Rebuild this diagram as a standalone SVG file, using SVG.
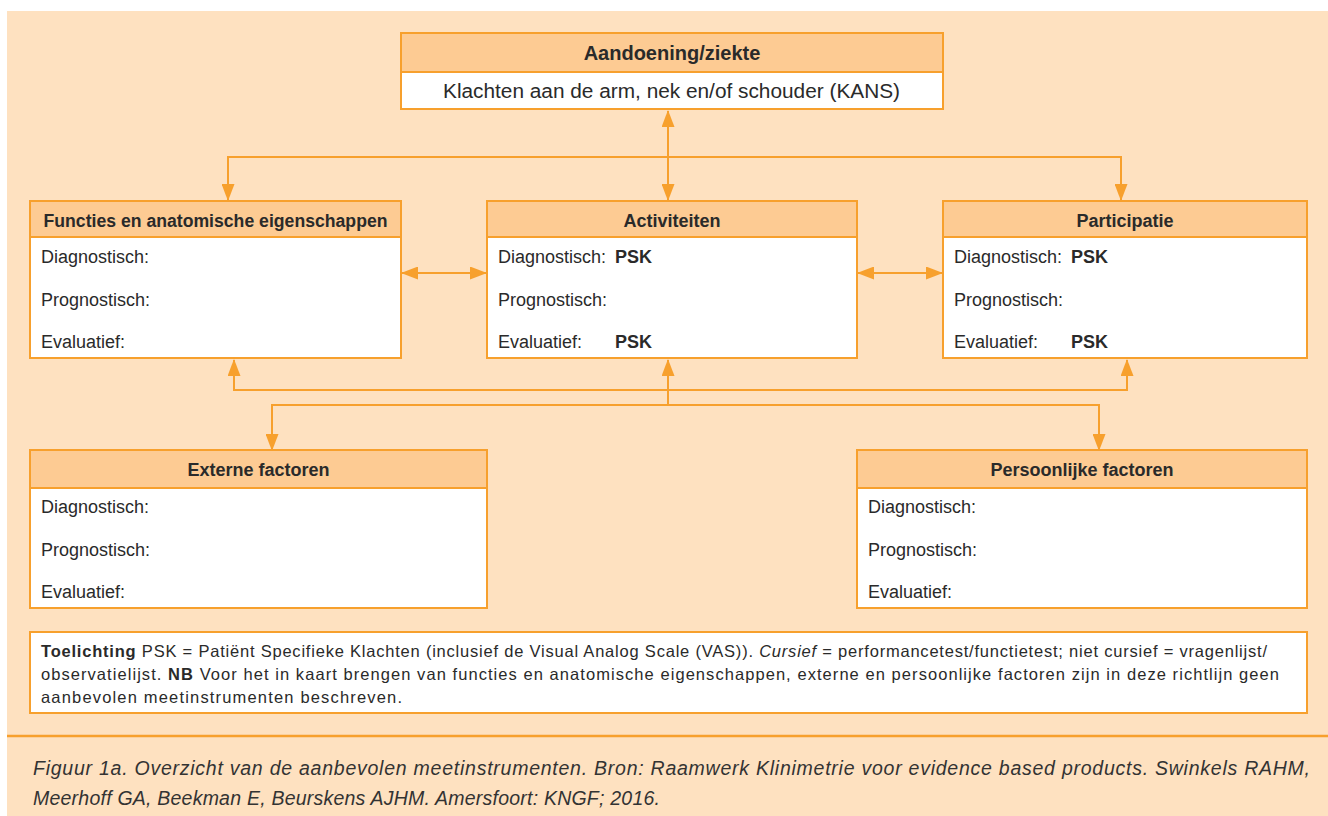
<svg xmlns="http://www.w3.org/2000/svg" width="1328" height="816" viewBox="0 0 1328 816">
<defs>
<style>
.bg{fill:#FEE1C0}
.hdr{fill:#FDCB93;stroke:#F7A02D;stroke-width:2}
.body{fill:#FFFFFF;stroke:#F7A02D;stroke-width:2}
.ln{fill:none;stroke:#F7A02D;stroke-width:2}
text{font-family:"Liberation Sans",Arial,sans-serif;fill:#2A2A2A}
.t{font-size:18px;font-weight:bold;text-anchor:middle}
.r{font-size:18px}
.b{font-weight:bold}
.note{font-size:16.5px}
.cap{font-size:19.5px;font-style:italic;fill:#333}
</style>
<marker id="ah" viewBox="0 0 17 13" refX="16" refY="6.5" markerWidth="17" markerHeight="13" markerUnits="userSpaceOnUse" orient="auto-start-reverse">
<path d="M0,0 L17,6.5 L0,13 z" fill="#F7A02D"/>
</marker>
</defs>
<rect class="bg" x="7" y="11" width="1321" height="805"/>
<line x1="7" y1="736" x2="1328" y2="736" stroke="#F7A02D" stroke-width="2.5"/>

<g id="connectors">
<path class="ln" d="M668,111 V200" marker-start="url(#ah)" marker-end="url(#ah)"/>
<path class="ln" d="M228,200 V157 H1121 V200" marker-start="url(#ah)" marker-end="url(#ah)"/>
<path class="ln" d="M402,273 H486" marker-start="url(#ah)" marker-end="url(#ah)"/>
<path class="ln" d="M858,273 H942" marker-start="url(#ah)" marker-end="url(#ah)"/>
<path class="ln" d="M234,360 V390 H1127 V360" marker-start="url(#ah)" marker-end="url(#ah)"/>
<path class="ln" d="M668,405 V360" marker-end="url(#ah)"/>
<path class="ln" d="M272,450 V405 H1099 V450" marker-start="url(#ah)" marker-end="url(#ah)"/>
</g>

<g id="aandoening">
<rect class="hdr" x="401" y="33" width="542" height="39"/>
<rect class="body" x="401" y="72" width="542" height="37"/>
<text class="t" x="672" y="60" style="font-size:20px">Aandoening/ziekte</text>
<text x="443" y="98" style="font-size:20px" textLength="457" lengthAdjust="spacingAndGlyphs">Klachten aan de arm, nek en/of schouder (KANS)</text>
</g>

<g id="functies">
<rect class="hdr" x="30" y="201" width="371" height="36"/>
<rect class="body" x="30" y="237" width="371" height="121"/>
<text class="t" x="215.5" y="227" textLength="344" lengthAdjust="spacingAndGlyphs">Functies en anatomische eigenschappen</text>
<text class="r" x="41" y="263">Diagnostisch:</text>
<text class="r" x="41" y="306">Prognostisch:</text>
<text class="r" x="41" y="348">Evaluatief:</text>
</g>

<g id="activiteiten">
<rect class="hdr" x="487" y="201" width="370" height="36"/>
<rect class="body" x="487" y="237" width="370" height="121"/>
<text class="t" x="672" y="227">Activiteiten</text>
<text class="r" x="498" y="263">Diagnostisch:</text>
<text class="r b" x="615" y="263">PSK</text>
<text class="r" x="498" y="306">Prognostisch:</text>
<text class="r" x="498" y="348">Evaluatief:</text>
<text class="r b" x="615" y="348">PSK</text>
</g>

<g id="participatie">
<rect class="hdr" x="943" y="201" width="364" height="36"/>
<rect class="body" x="943" y="237" width="364" height="121"/>
<text class="t" x="1125" y="227">Participatie</text>
<text class="r" x="954" y="263">Diagnostisch:</text>
<text class="r b" x="1071" y="263">PSK</text>
<text class="r" x="954" y="306">Prognostisch:</text>
<text class="r" x="954" y="348">Evaluatief:</text>
<text class="r b" x="1071" y="348">PSK</text>
</g>

<g id="externe">
<rect class="hdr" x="30" y="450" width="457" height="38"/>
<rect class="body" x="30" y="488" width="457" height="120"/>
<text class="t" x="258.5" y="476">Externe factoren</text>
<text class="r" x="41" y="513">Diagnostisch:</text>
<text class="r" x="41" y="556">Prognostisch:</text>
<text class="r" x="41" y="598">Evaluatief:</text>
</g>

<g id="persoonlijke">
<rect class="hdr" x="857" y="450" width="450" height="38"/>
<rect class="body" x="857" y="488" width="450" height="120"/>
<text class="t" x="1082" y="476">Persoonlijke factoren</text>
<text class="r" x="868" y="513">Diagnostisch:</text>
<text class="r" x="868" y="556">Prognostisch:</text>
<text class="r" x="868" y="598">Evaluatief:</text>
</g>

<g id="toelichting">
<rect class="body" x="30" y="632" width="1277" height="81"/>
<text class="note" x="41" y="657" textLength="1226" lengthAdjust="spacing"><tspan class="b">Toelichting</tspan> PSK = Patiënt Specifieke Klachten (inclusief de Visual Analog Scale (VAS)). <tspan font-style="italic">Cursief</tspan> = performancetest/functietest; niet cursief = vragenlijst/</text>
<text class="note" x="41" y="680" textLength="1238" lengthAdjust="spacing">observatielijst. <tspan class="b">NB</tspan> Voor het in kaart brengen van functies en anatomische eigenschappen, externe en persoonlijke factoren zijn in deze richtlijn geen</text>
<text class="note" x="41" y="703" textLength="361" lengthAdjust="spacing">aanbevolen meetinstrumenten beschreven.</text>
</g>

<g id="caption">
<text class="cap" x="33" y="775" textLength="1277" lengthAdjust="spacing">Figuur 1a. Overzicht van de aanbevolen meetinstrumenten. Bron: Raamwerk Klinimetrie voor evidence based products. Swinkels RAHM,</text>
<text class="cap" x="33" y="805" textLength="627" lengthAdjust="spacing">Meerhoff GA, Beekman E, Beurskens AJHM. Amersfoort: KNGF; 2016.</text>
</g>
</svg>
